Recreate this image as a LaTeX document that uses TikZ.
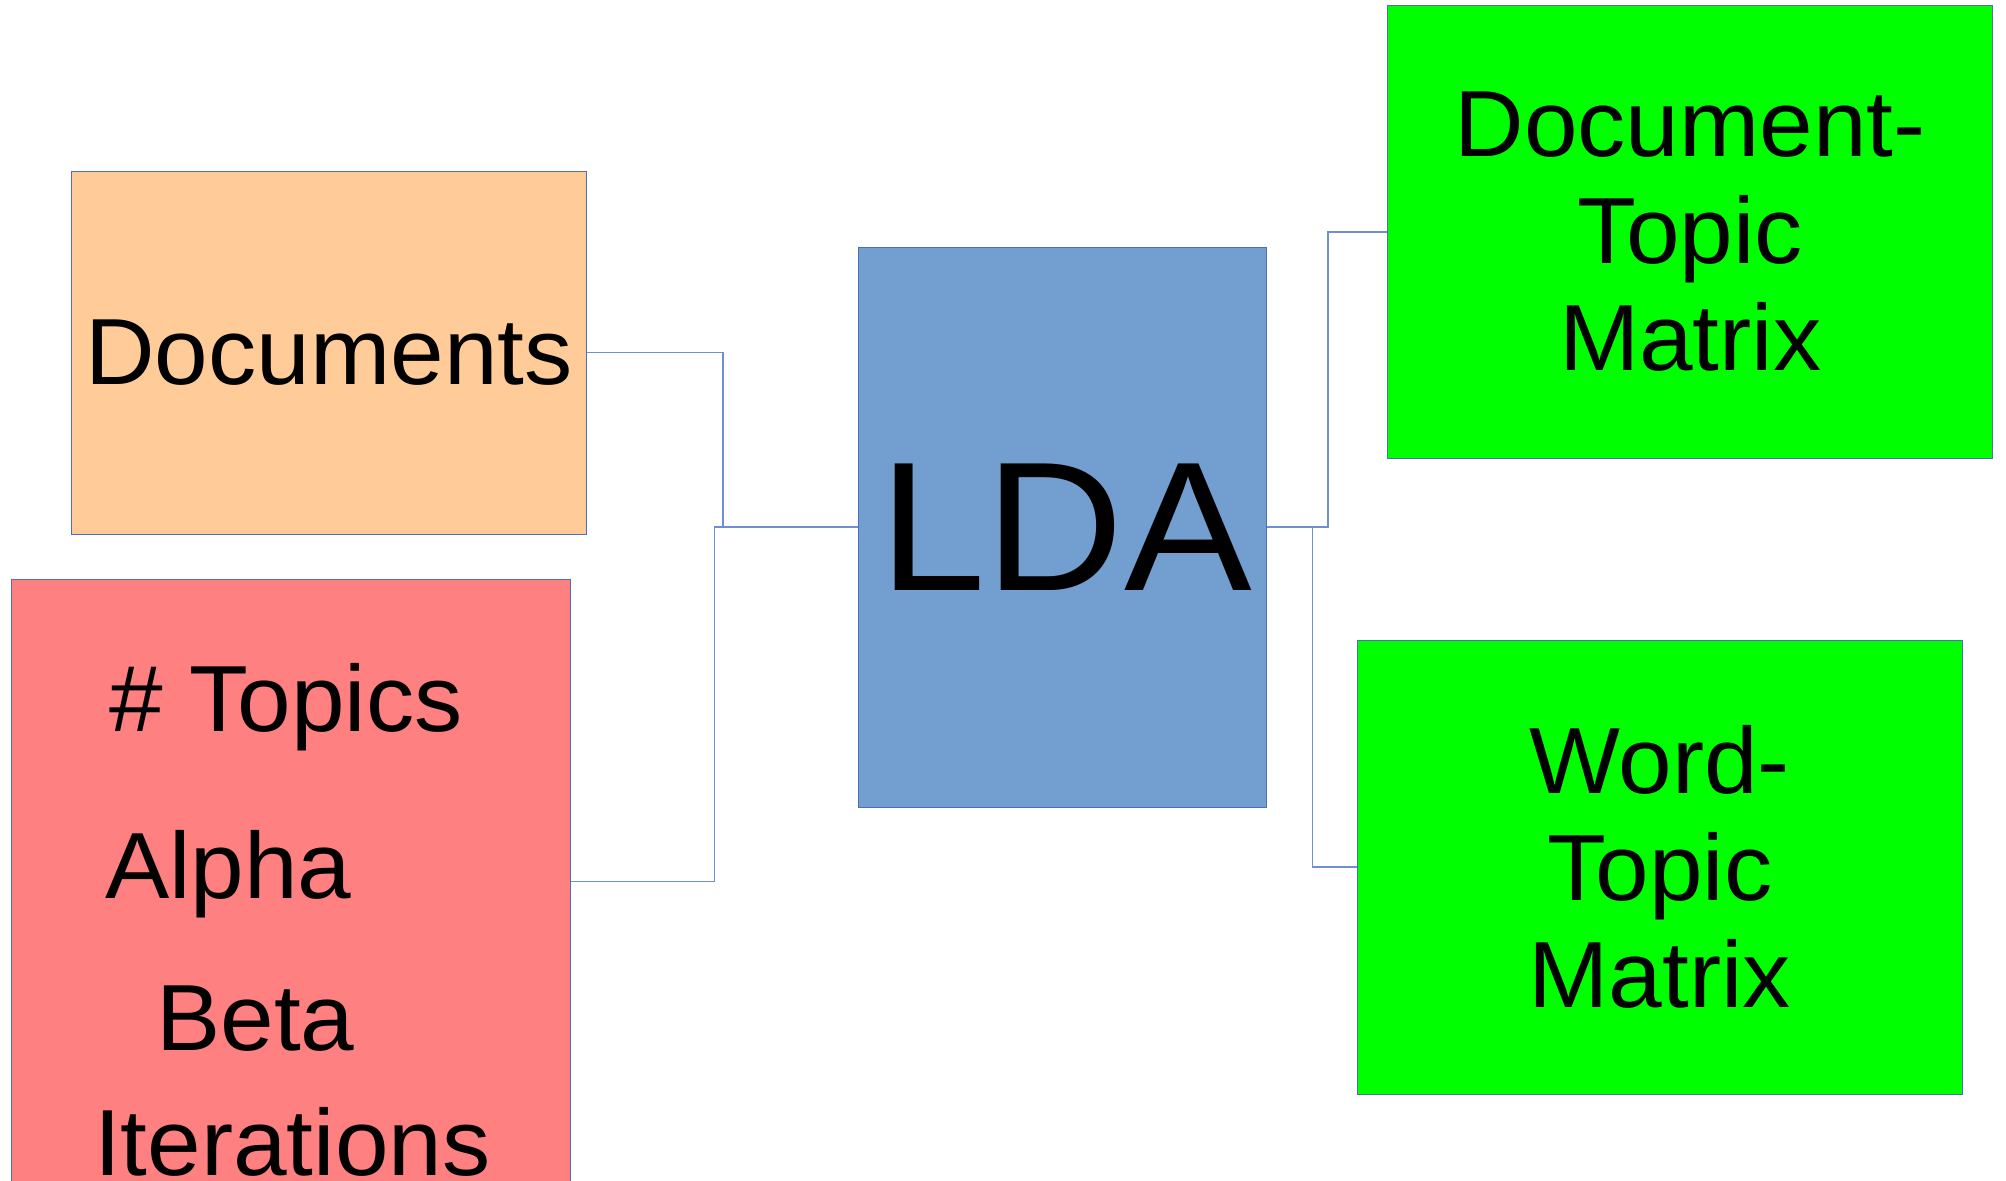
\documentclass[tikz,border=0pt]{standalone}
\usepackage{fontspec}
\setmainfont{Liberation Sans}[FakeStretch=1.025]
\definecolor{boxline}{HTML}{4A6FB5}
\definecolor{wireblue}{HTML}{6F8FCF}
\definecolor{docfill}{HTML}{FFCC99}
\definecolor{parfill}{HTML}{FF8080}
\definecolor{ldafill}{HTML}{729FCF}
\definecolor{outfill}{HTML}{00FF00}
\begin{document}
\begin{tikzpicture}[x=1pt,y=-1pt,
  box/.style={draw=boxline, line width=1pt, inner sep=0pt, align=center,
    font=\fontsize{94}{107}\selectfont},
  partext/.style={anchor=base west, inner sep=0pt, font=\fontsize{94}{107}\selectfont},
  wire/.style={draw=wireblue, line width=1.3pt}]
\clip (0,0) rectangle (2006,1181);
\fill[white] (0,0) rectangle (2006,1181);

% inputs
\node[box, fill=docfill, minimum width=515.2, minimum height=362.7] (docs) at (329,352.7) {Documents};
\node[box, fill=parfill, minimum width=559.2, minimum height=605] (params) at (290.8,881.5) {};
\node[partext] (ntopics) at (109,731) {\# Topics};
\node[partext] (alpha) at (105,898) {Alpha};
\node[partext] (beta) at (156,1050) {Beta};
\node[partext] (iters) at (94,1175) {Iterations};

% model
\node[box, fill=ldafill, minimum width=408.7, minimum height=560,
  font=\fontsize{184}{200}\selectfont] (lda) at (1062.6,527) {\hspace*{6pt}\scalebox{1.015}[1]{LDA}};

% outputs
\node[box, fill=outfill, minimum width=604.7, minimum height=453.7] (dtm) at (1690.2,231.9) {Document-\\Topic\\Matrix};
\node[box, fill=outfill, minimum width=604.4, minimum height=454] (wtm) at (1659.8,867) {Word-\\Topic\\Matrix};

% connectors
\draw[wire] (docs.east) -- ++(135.8,0) |- (lda.west);
\draw[wire] (params.east) -- ++(143.9,0) |- (lda.west);
\draw[wire] (lda.east) -- ++(60.5,0) |- (dtm.west);
\draw[wire] (lda.east) -- ++(45,0) |- (wtm.west);
\end{tikzpicture}
\end{document}
